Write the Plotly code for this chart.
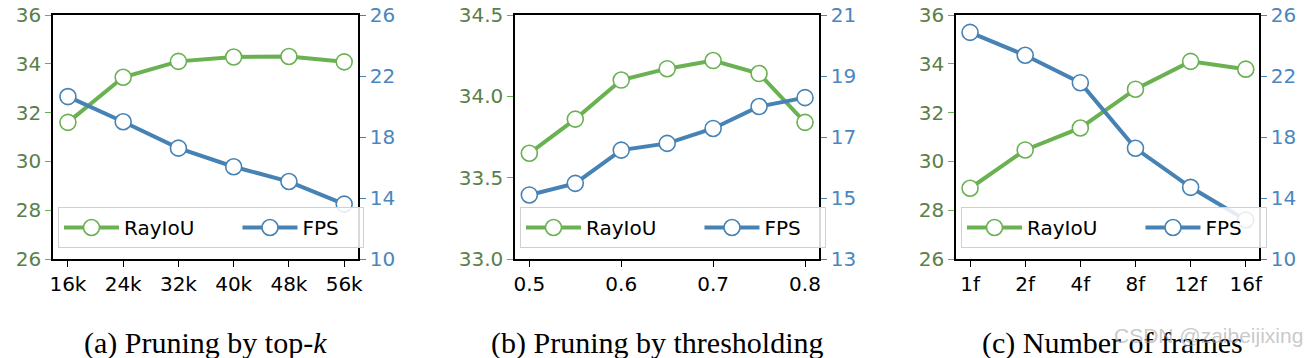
import plotly.graph_objects as go
from plotly.subplots import make_subplots

# ---------------- data ----------------
topk_labels = ["16k", "24k", "32k", "40k", "48k", "56k"]
topk_rayiou = [31.6, 33.45, 34.1, 34.28, 34.3, 34.08]
topk_fps = [20.65, 19.0, 17.27, 16.05, 15.08, 13.6]

thr_values = [0.5, 0.55, 0.6, 0.65, 0.7, 0.75, 0.8]
thr_rayiou = [33.65, 33.86, 34.10, 34.17, 34.22, 34.14, 33.84]
thr_fps = [15.1, 15.48, 16.57, 16.79, 17.28, 18.0, 18.29]

frame_labels = ["1f", "2f", "4f", "8f", "12f", "16f"]
frame_rayiou = [28.9, 30.47, 31.37, 32.96, 34.1, 33.78]
frame_fps = [24.86, 23.36, 21.56, 17.26, 14.7, 12.56]

captions = ["(a) Pruning by top-<i>k</i>", "(b) Pruning by thresholding", "(c) Number of frames"]

# ---------------- style ----------------
W, H = 1312, 358
GREEN = "#6ab152"
BLUE = "#4682b4"
GREEN_TXT = "#5a8049"
BLUE_TXT = "#4a86c0"
FONT = "DejaVu Sans"
TICK_SIZE = 20

fig = make_subplots(rows=1, cols=3, specs=[[{"secondary_y": True}] * 3])

panels = [
    (topk_labels, topk_rayiou, topk_fps),
    (thr_values, thr_rayiou, thr_fps),
    (frame_labels, frame_rayiou, frame_fps),
]
legend_names = ["legend", "legend2", "legend3"]
pad1 = "\u00a0" * 6
pad2 = "\u00a0" * 3 + "\u200b"

for i, (xv, ray, fps) in enumerate(panels):
    col = i + 1
    fig.add_trace(go.Scatter(
        x=xv, y=ray, name="RayIoU" + pad1, mode="lines+markers",
        line=dict(color=GREEN, width=4),
        marker=dict(symbol="circle", size=16, color="white", line=dict(color=GREEN, width=1.6)),
        legend=legend_names[i],
    ), row=1, col=col, secondary_y=False)
    fig.add_trace(go.Scatter(
        x=xv, y=fps, name="FPS" + pad2, mode="lines+markers",
        line=dict(color=BLUE, width=4),
        marker=dict(symbol="circle", size=16, color="white", line=dict(color=BLUE, width=1.6)),
        legend=legend_names[i],
    ), row=1, col=col, secondary_y=True)

# plot-area pixel boxes
boxes = [(53, 358), (515, 819), (956, 1259)]
ytop, ybot = 15, 259
ydom = [1 - ybot / H, 1 - ytop / H]

xranges = [[-0.27, 5.25], [0.4844, 0.8152], [-0.255, 5.24]]
left_ranges = [[26, 36], [33.0, 34.5], [26, 36]]
left_ticks = [[26, 28, 30, 32, 34, 36], [33.0, 33.5, 34.0, 34.5], [26, 28, 30, 32, 34, 36]]
right_ranges = [[10, 26], [13, 21], [10, 26]]
right_ticks = [[10, 14, 18, 22, 26], [13, 15, 17, 19, 21], [10, 14, 18, 22, 26]]

layout = dict(
    width=W, height=H, margin=dict(l=0, r=0, t=0, b=0, pad=0, autoexpand=False),
    paper_bgcolor="white", plot_bgcolor="white",
    font=dict(family=FONT, size=TICK_SIZE, color="black"),
)

for i in range(3):
    xa = "xaxis" if i == 0 else f"xaxis{i+1}"
    yl = "yaxis" if i == 0 else f"yaxis{2*i+1}"
    yr = f"yaxis{2*i+2}"
    x0, x1 = boxes[i]
    xaxis = dict(
        domain=[x0 / W, x1 / W], range=xranges[i], automargin=False,
        showgrid=False, zeroline=False,
        showline=True, linecolor="black", linewidth=1.5, mirror=True,
        ticks="outside", ticklen=6, tickwidth=1.2, tickcolor="black",
        tickfont=dict(family=FONT, size=TICK_SIZE, color="black"),
    )
    if i == 1:
        xaxis.update(tickmode="array", tickvals=[0.5, 0.6, 0.7, 0.8],
                     ticktext=["0.5", "0.6", "0.7", "0.8"])
    else:
        xaxis.update(type="category")
    layout[xa] = xaxis
    fmt = ".1f" if i == 1 else "d"
    layout[yl] = dict(
        domain=ydom, range=left_ranges[i], tickvals=left_ticks[i], tickformat=fmt,
        automargin=False, showgrid=False, zeroline=False,
        showline=True, linecolor="black", linewidth=1.5,
        ticks="outside", ticklen=6, tickwidth=1.2, tickcolor=GREEN,
        tickfont=dict(family=FONT, size=TICK_SIZE, color=GREEN_TXT),
    )
    layout[yr] = dict(
        domain=ydom, range=right_ranges[i], tickvals=right_ticks[i],
        automargin=False, showgrid=False, zeroline=False,
        showline=True, linecolor="black", linewidth=1.5,
        ticks="outside", ticklen=6, tickwidth=1.2, tickcolor=BLUE,
        tickfont=dict(family=FONT, size=TICK_SIZE, color=BLUE_TXT),
    )

legend_x = [58, 520, 961]
for i, ln in enumerate(legend_names):
    layout[ln] = dict(
        orientation="h", x=legend_x[i] / W, xanchor="left",
        y=1 - 248 / H, yanchor="bottom",
        bgcolor="rgba(255,255,255,0.85)", bordercolor="#d0d0d0", borderwidth=1,
        font=dict(family=FONT, size=TICK_SIZE, color="black"),
        itemwidth=55,
        itemclick=False, itemdoubleclick=False,
    )

fig.update_layout(**layout)

cap_centers = [205, 657, 1112]
for i, cap in enumerate(captions):
    fig.add_annotation(
        text=cap, xref="paper", yref="paper", x=cap_centers[i] / W, y=1 - 343 / H,
        xanchor="center", yanchor="middle", showarrow=False,
        font=dict(family="Liberation Serif", size=30, color="black"),
    )

fig.add_annotation(
    text="CSDN @zaibeijixing", xref="paper", yref="paper", x=1305 / W, y=1 - 335 / H,
    xanchor="right", yanchor="middle", showarrow=False,
    font=dict(family="Liberation Sans", size=21, color="rgba(165,165,165,0.6)"),
)

fig.write_html(
    "out.html",
    config={"displayModeBar": False},
    post_script="document.body.style.margin='0';document.body.style.padding='0';",
)
